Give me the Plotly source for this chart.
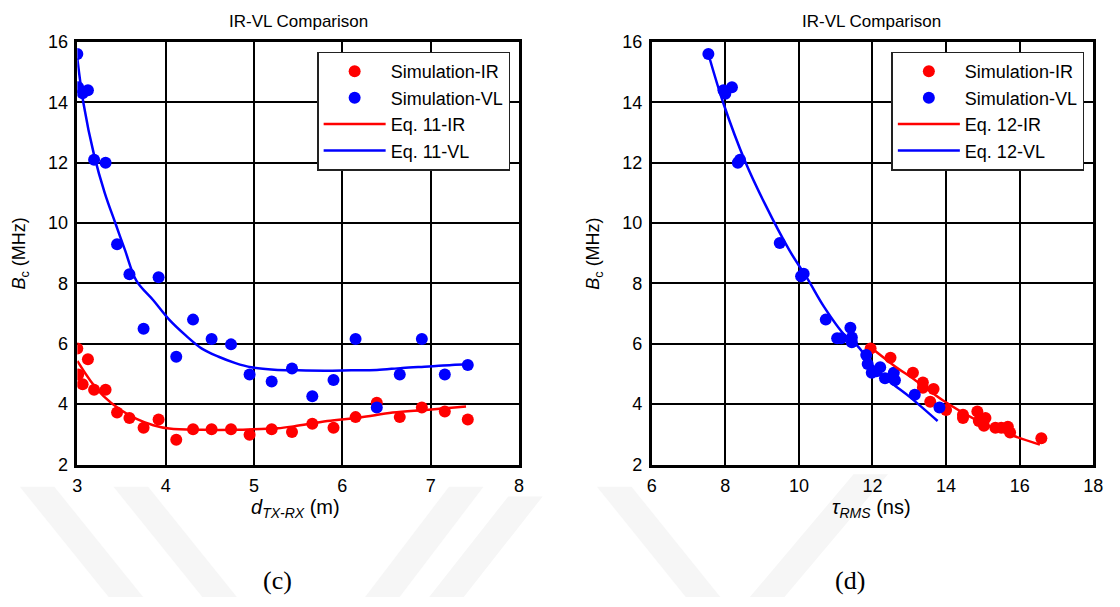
import plotly.graph_objects as go

# ---------------- (c) Bc versus Tx-Rx distance ----------------
d_vl = [3.0, 3.01, 3.06, 3.12, 3.19, 3.32, 3.45, 3.59, 3.75, 3.92, 4.12, 4.31, 4.52,
        4.74, 4.95, 5.2, 5.43, 5.66, 5.9, 6.15, 6.39, 6.65, 6.9, 7.16, 7.42]
bc_vl_d = [15.6, 14.5, 14.3, 14.4, 12.1, 12.0, 9.3, 8.3, 6.5, 8.2, 5.57, 6.8, 6.16,
           5.98, 4.98, 4.75, 5.18, 4.26, 4.8, 6.16, 3.89, 4.98, 6.16, 4.98, 5.3]
d_ir = [3.0, 3.01, 3.06, 3.12, 3.19, 3.32, 3.45, 3.59, 3.75, 3.92, 4.12, 4.31, 4.52,
        4.74, 4.95, 5.2, 5.43, 5.66, 5.9, 6.15, 6.39, 6.65, 6.9, 7.16, 7.42]
bc_ir_d = [5.84, 4.98, 4.66, 5.49, 4.48, 4.48, 3.72, 3.54, 3.22, 3.49, 2.82, 3.17, 3.17,
           3.17, 2.99, 3.17, 3.08, 3.35, 3.22, 3.57, 4.05, 3.57, 3.89, 3.76, 3.49]

# Eq. 11 model curves
eq11_vl_x = [3.0, 3.07, 3.19, 3.31, 3.43, 3.54, 3.67, 3.86, 4.04, 4.23, 4.41, 4.6,
             4.79, 4.97, 5.23, 5.5, 5.8, 6.1, 6.39, 6.68, 6.98, 7.24, 7.42]
eq11_vl_y = [15.45, 13.96, 12.25, 11.0, 10.0, 9.1, 8.08, 7.44, 6.8, 6.27, 5.84, 5.57,
             5.36, 5.22, 5.14, 5.12, 5.11, 5.12, 5.13, 5.2, 5.25, 5.3, 5.32]
eq11_ir_x = [3.0, 3.15, 3.3, 3.48, 3.67, 3.86, 4.04, 4.41, 4.79, 5.08, 5.27, 5.46,
             5.83, 6.2, 6.57, 6.94, 7.4]
eq11_ir_y = [5.43, 4.77, 4.26, 3.83, 3.51, 3.3, 3.19, 3.15, 3.15, 3.18, 3.2, 3.27,
             3.44, 3.56, 3.72, 3.81, 3.92]

# ---------------- (d) Bc versus RMS delay spread ----------------
tau_vl = [7.54, 7.95, 8.0, 8.18, 8.34, 8.4, 9.48, 10.06, 10.13, 10.73, 11.04, 11.15,
          11.4, 11.44, 11.44, 11.83, 11.87, 11.98, 12.11, 12.21, 12.34, 12.58, 12.61,
          13.15, 13.82]
bc_vl_t = [15.6, 14.4, 14.28, 14.5, 12.0, 12.1, 9.34, 8.24, 8.32, 6.8, 6.18, 6.18,
           6.53, 6.21, 6.05, 5.63, 5.33, 5.04, 5.09, 5.22, 4.86, 5.04, 4.79, 4.31, 3.89]
tau_ir = [11.95, 12.49, 13.1, 13.37, 13.37, 13.66, 13.57, 14.0, 14.46, 14.46, 14.85,
          14.89, 15.07, 15.03, 15.34, 15.5, 15.68, 15.74, 16.59]
bc_ir_t = [5.84, 5.54, 5.04, 4.72, 4.54, 4.5, 4.08, 3.81, 3.65, 3.54, 3.76, 3.44,
           3.54, 3.28, 3.22, 3.22, 3.25, 3.06, 2.87]

# Eq. 12 model curves
eq12_vl_x = [7.54, 7.95, 8.54, 9.07, 9.74, 10.24, 10.68, 11.22, 11.58, 12.12, 12.56,
             13.01, 13.77]
eq12_vl_y = [15.6, 13.96, 12.04, 10.65, 9.1, 8.14, 7.23, 6.32, 5.95, 5.11, 4.66,
             4.24, 3.44]
eq12_ir_x = [11.94, 12.56, 13.19, 13.91, 14.8, 15.7, 16.55]
eq12_ir_y = [5.89, 5.3, 4.77, 4.13, 3.49, 3.01, 2.66]

RED = "#ff0000"
BLUE = "#0000ff"
FONT = "Liberation Sans, Arial, sans-serif"
W, H = 1120, 607


def px_x(p):
    """Pixel column -> paper fraction."""
    return p / W


def px_y(p):
    """Pixel row -> paper fraction."""
    return 1 - p / H


fig = go.Figure()


def add_panel(xs_ir, ys_ir, xs_vl, ys_vl, cx_ir, cy_ir, cx_vl, cy_vl, eq, xa, ya, leg):
    fig.add_trace(go.Scatter(x=xs_ir, y=ys_ir, mode="markers", name="Simulation-IR",
                             marker=dict(color=RED, size=12), xaxis=xa, yaxis=ya,
                             legend=leg, legendgroup=leg + "a"))
    fig.add_trace(go.Scatter(x=xs_vl, y=ys_vl, mode="markers", name="Simulation-VL",
                             marker=dict(color=BLUE, size=12), xaxis=xa, yaxis=ya,
                             legend=leg, legendgroup=leg + "b"))
    fig.add_trace(go.Scatter(x=cx_ir, y=cy_ir, mode="lines", name=f"Eq. {eq}-IR",
                             line=dict(color=RED, width=2.5, shape="spline"),
                             xaxis=xa, yaxis=ya, legend=leg, legendgroup=leg + "c"))
    fig.add_trace(go.Scatter(x=cx_vl, y=cy_vl, mode="lines", name=f"Eq. {eq}-VL",
                             line=dict(color=BLUE, width=2.5, shape="spline"),
                             xaxis=xa, yaxis=ya, legend=leg, legendgroup=leg + "d"))


add_panel(d_ir, bc_ir_d, d_vl, bc_vl_d, eq11_ir_x, eq11_ir_y, eq11_vl_x, eq11_vl_y,
          11, "x", "y", "legend")
add_panel(tau_ir, bc_ir_t, tau_vl, bc_vl_t, eq12_ir_x, eq12_ir_y, eq12_vl_x, eq12_vl_y,
          12, "x2", "y2", "legend2")

ydom = [px_y(470), px_y(33)]
axis_common = dict(showline=True, linecolor="black", linewidth=2.5, mirror=True,
                   showgrid=True, gridcolor="black", gridwidth=1.8, zeroline=False,
                   ticks="", ticklabelstandoff=3,
                   tickfont=dict(family=FONT, size=18, color="black"))

legend_common = dict(bgcolor="white", bordercolor="#222222", borderwidth=1.5,
                     font=dict(family=FONT, size=18, color="black"),
                     tracegroupgap=0, xanchor="right", yanchor="top", itemwidth=62)

fig.update_layout(
    width=W, height=H,
    margin=dict(l=0, r=0, t=0, b=0),
    paper_bgcolor="white", plot_bgcolor="white",
    xaxis=dict(domain=[px_x(73.3), px_x(521)], range=[3, 8], dtick=1, **axis_common),
    yaxis=dict(domain=ydom, range=[2, 16], dtick=2, anchor="x", **axis_common),
    xaxis2=dict(domain=[px_x(655.5), px_x(1103)], range=[6, 18], dtick=2,
                anchor="y2", **axis_common),
    yaxis2=dict(domain=ydom, range=[2, 16], dtick=2, anchor="x2", **axis_common),
    legend=dict(x=px_x(512), y=px_y(43), **legend_common),
    legend2=dict(x=px_x(1094), y=px_y(43), **legend_common),
    showlegend=True,
)

# panel titles, axis titles and sub-figure captions
texts = [
    (297, 12, "IR-VL Comparison", 17, 0, FONT),
    (878, 12, "IR-VL Comparison", 17, 0, FONT),
    (16, 252, "<i>B</i><sub>c</sub> (MHz)", 18, -90, FONT),
    (598, 252, "<i>B</i><sub>c</sub> (MHz)", 18, -90, FONT),
    (294, 515, "<i>d</i><sub><i>TX-RX</i></sub> (m)", 20, 0, FONT),
    (878, 515, "<i>τ</i><sub><i>RMS</i></sub> (ns)", 20, 0, FONT),
    (276, 590, "(c)", 26, 0, "Liberation Serif, Times New Roman, serif"),
    (856, 590, "(d)", 26, 0, "Liberation Serif, Times New Roman, serif"),
]
for x, y, t, s, ang, fam in texts:
    fig.add_annotation(x=px_x(x), y=px_y(y), xref="paper", yref="paper", text=t,
                       showarrow=False, textangle=ang, xanchor="center", yanchor="middle",
                       font=dict(family=fam, size=s, color="black"))

# faint background bands along the lower edge of the page
bands = [
    [(15, 493), (50, 493), (140, 607), (105, 607)],
    [(110, 493), (145, 493), (235, 607), (200, 607)],
    [(450, 493), (485, 493), (400, 607), (365, 607)],
    [(510, 503), (545, 503), (465, 607), (430, 607)],
    [(860, 480), (895, 480), (790, 607), (755, 607)],
    [(600, 493), (635, 493), (725, 607), (690, 607)],
]
for poly in bands:
    path = "M " + " L ".join(f"{px_x(a):.4f},{px_y(b):.4f}" for a, b in poly) + " Z"
    fig.add_shape(type="path", path=path, xref="paper", yref="paper",
                  fillcolor="#f6f6f6", line=dict(width=0), layer="below")

fig.write_html("out.html")
